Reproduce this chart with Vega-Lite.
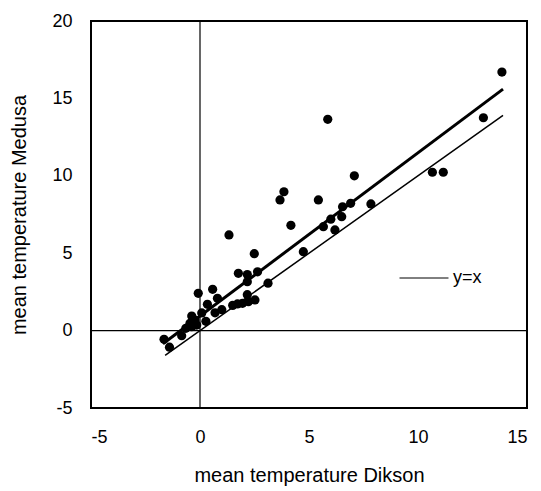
{
  "$schema": "https://vega.github.io/schema/vega-lite/v6.json",
  "width": 436,
  "height": 387,
  "autosize": "none",
  "padding": {"left": 91, "top": 21, "right": 14, "bottom": 83},
  "background": "white",
  "config": {
    "view": {"stroke": "black", "strokeWidth": 2},
    "font": "Liberation Sans",
    "axis": {"grid": false, "ticks": false, "domain": false, "labelFont": "Liberation Sans", "titleFont": "Liberation Sans", "labelFontSize": 18, "titleFontSize": 20, "titleFontWeight": "normal", "labelColor": "black", "titleColor": "black"}
  },
  "datasets": {
    "pts": [
      {"x": 13.85, "y": 16.7}, {"x": 13.0, "y": 13.75}, {"x": 10.66, "y": 10.23}, {"x": 11.16, "y": 10.23},
      {"x": 5.86, "y": 13.65}, {"x": 7.08, "y": 10.0}, {"x": 3.85, "y": 8.97}, {"x": 3.67, "y": 8.44},
      {"x": 5.43, "y": 8.44}, {"x": 6.54, "y": 8.0}, {"x": 6.91, "y": 8.22}, {"x": 7.84, "y": 8.18},
      {"x": 6.0, "y": 7.2}, {"x": 6.5, "y": 7.36}, {"x": 5.66, "y": 6.71}, {"x": 6.19, "y": 6.5},
      {"x": 4.17, "y": 6.8}, {"x": 1.33, "y": 6.18}, {"x": 2.49, "y": 4.97}, {"x": 4.74, "y": 5.1},
      {"x": 1.76, "y": 3.7}, {"x": 2.17, "y": 3.62}, {"x": 2.64, "y": 3.8}, {"x": 2.17, "y": 3.16},
      {"x": 3.12, "y": 3.06}, {"x": -0.08, "y": 2.41}, {"x": 0.58, "y": 2.67}, {"x": 0.8, "y": 2.09},
      {"x": 0.34, "y": 1.7}, {"x": 0.08, "y": 1.14}, {"x": -0.38, "y": 0.94}, {"x": 0.69, "y": 1.15},
      {"x": 1.0, "y": 1.35}, {"x": 1.5, "y": 1.63}, {"x": 1.72, "y": 1.72}, {"x": 1.95, "y": 1.76},
      {"x": 2.17, "y": 2.32}, {"x": 2.22, "y": 1.87}, {"x": 2.52, "y": 1.98}, {"x": 0.27, "y": 0.6},
      {"x": -0.46, "y": 0.47}, {"x": -0.23, "y": 0.68}, {"x": -0.65, "y": 0.15}, {"x": -0.38, "y": 0.25},
      {"x": -0.15, "y": 0.36}, {"x": -0.84, "y": -0.33}, {"x": -1.65, "y": -0.56}, {"x": -1.4, "y": -1.07}
    ],
    "fit": [{"x": -1.7, "y": -0.85}, {"x": 13.9, "y": 15.6}],
    "idline": [{"x": -1.6, "y": -1.6, "s": "y=x"}, {"x": 13.9, "y": 13.9, "s": "y=x"}],
    "zx": [{"v": 0}],
    "zy": [{"v": 0}]
  },
  "layer": [
    {
      "data": {"name": "zx"},
      "mark": {"type": "rule", "color": "black", "strokeWidth": 1.2},
      "encoding": {"x": {"field": "v", "type": "quantitative"}}
    },
    {
      "data": {"name": "zy"},
      "mark": {"type": "rule", "color": "black", "strokeWidth": 1.2},
      "encoding": {"y": {"field": "v", "type": "quantitative"}}
    },
    {
      "data": {"name": "pts"},
      "mark": {"type": "point", "filled": true, "shape": "circle", "size": 85, "color": "black", "opacity": 1},
      "encoding": {
        "x": {"field": "x", "type": "quantitative", "scale": {"domain": [-5, 15], "nice": false, "zero": false},
              "axis": {"values": [-5, 0, 5, 10, 15], "title": "mean temperature Dikson", "labelPadding": 20, "titlePadding": 19,
                       "labelExpr": "datum.value < 0 ? '-' + abs(datum.value) : '' + datum.value"}},
        "y": {"field": "y", "type": "quantitative", "scale": {"domain": [-5, 20], "nice": false, "zero": false},
              "axis": {"values": [-5, 0, 5, 10, 15, 20], "title": "mean temperature Medusa", "labelPadding": 19, "titlePadding": 22,
                       "labelExpr": "datum.value < 0 ? '-' + abs(datum.value) : '' + datum.value"}}
      }
    },
    {
      "data": {"name": "fit"},
      "mark": {"type": "line", "color": "black", "strokeWidth": 3},
      "encoding": {"x": {"field": "x", "type": "quantitative"}, "y": {"field": "y", "type": "quantitative"}}
    },
    {
      "data": {"name": "idline"},
      "mark": {"type": "line", "strokeWidth": 1.5},
      "encoding": {
        "x": {"field": "x", "type": "quantitative"},
        "y": {"field": "y", "type": "quantitative"},
        "color": {"field": "s", "type": "nominal", "scale": {"domain": ["y=x"], "range": ["black"]},
                  "legend": {"title": null, "orient": "none", "legendX": 308, "legendY": 232, "symbolType": "stroke", "symbolSize": 2400, "symbolStrokeWidth": 1, "labelFontSize": 18, "labelFont": "Liberation Sans", "labelColor": "black", "labelOffset": 4}}
      }
    }
  ]
}
